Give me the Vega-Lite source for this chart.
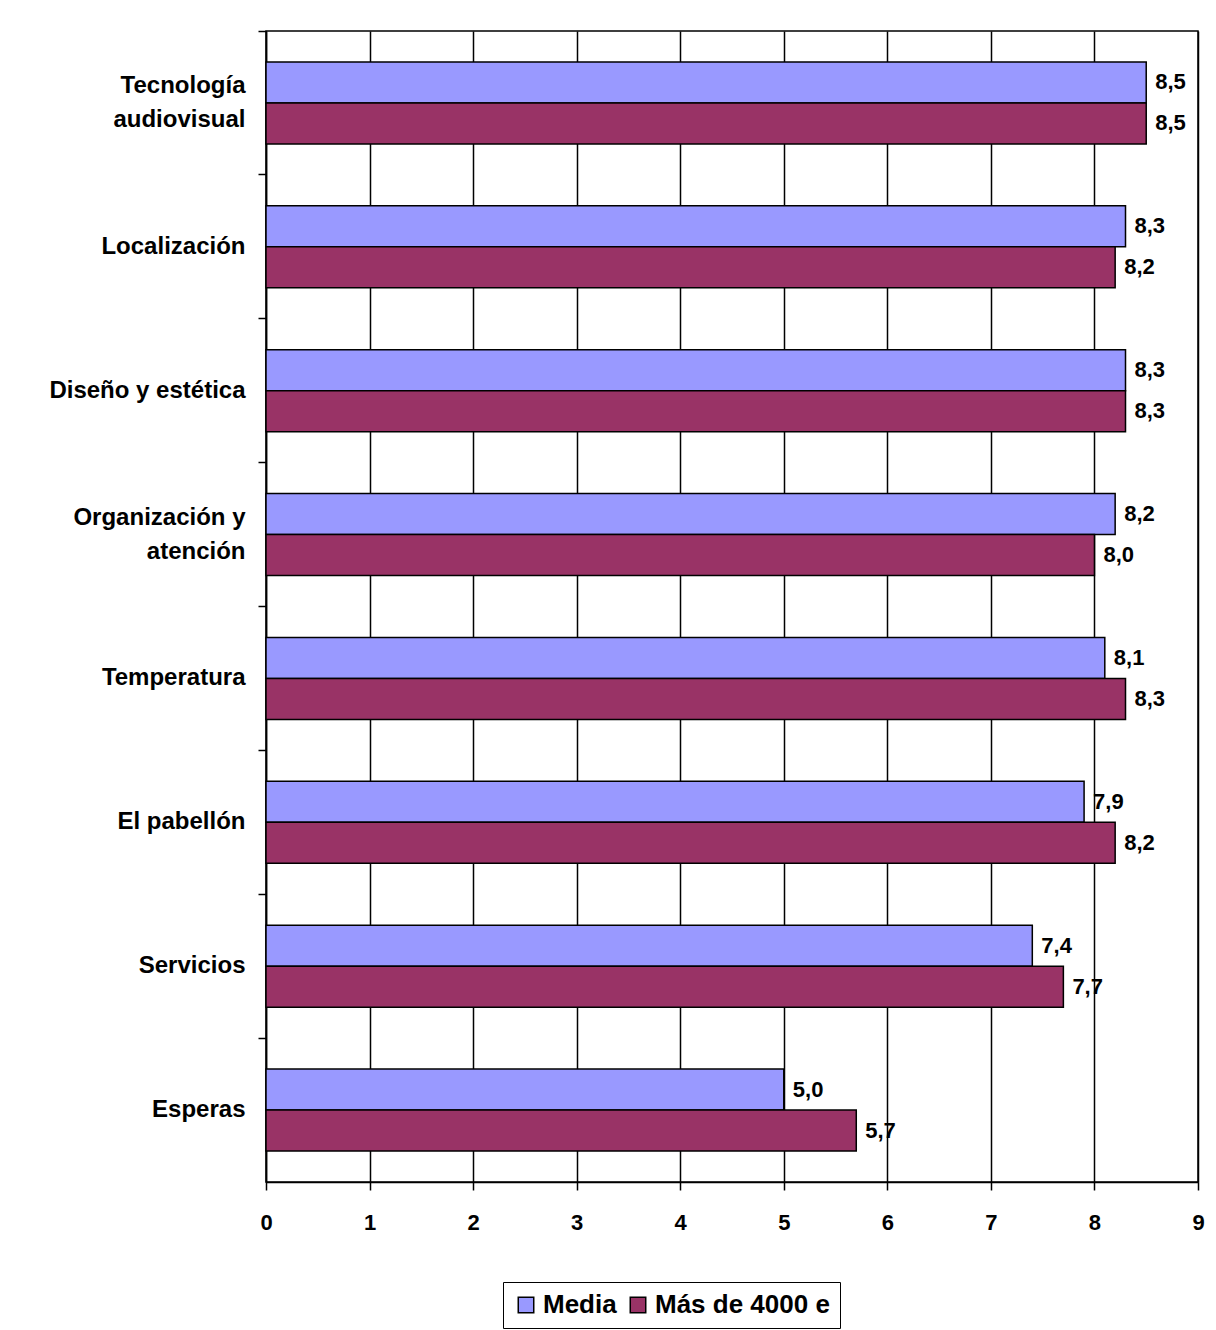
{
  "$schema": "https://vega.github.io/schema/vega-lite/v6.json",
  "autosize": {"type": "none"},
  "padding": {"left": 266, "top": 31, "right": 18, "bottom": 148},
  "width": 932,
  "height": 1151,
  "background": "white",
  "config": {
    "locale": {"number": {"decimal": ",", "thousands": ".", "grouping": [3], "currency": ["", " €"]}},
    "view": {"stroke": "black", "strokeWidth": 1.5},
    "font": "Liberation Sans",
    "axis": {"domainColor": "black", "domainWidth": 1.5, "tickColor": "black", "tickWidth": 1.5, "labelColor": "black", "labelFontWeight": "bold", "title": null}
  },
  "data": {
    "values": [
      {"categoria": "Tecnología|audiovisual", "serie": "Media", "valor": 8.5},
      {"categoria": "Tecnología|audiovisual", "serie": "Más de 4000 e", "valor": 8.5},
      {"categoria": "Localización", "serie": "Media", "valor": 8.3},
      {"categoria": "Localización", "serie": "Más de 4000 e", "valor": 8.2},
      {"categoria": "Diseño y estética", "serie": "Media", "valor": 8.3},
      {"categoria": "Diseño y estética", "serie": "Más de 4000 e", "valor": 8.3},
      {"categoria": "Organización y|atención", "serie": "Media", "valor": 8.2},
      {"categoria": "Organización y|atención", "serie": "Más de 4000 e", "valor": 8.0},
      {"categoria": "Temperatura", "serie": "Media", "valor": 8.1},
      {"categoria": "Temperatura", "serie": "Más de 4000 e", "valor": 8.3},
      {"categoria": "El pabellón", "serie": "Media", "valor": 7.9},
      {"categoria": "El pabellón", "serie": "Más de 4000 e", "valor": 8.2},
      {"categoria": "Servicios", "serie": "Media", "valor": 7.4},
      {"categoria": "Servicios", "serie": "Más de 4000 e", "valor": 7.7},
      {"categoria": "Esperas", "serie": "Media", "valor": 5.0},
      {"categoria": "Esperas", "serie": "Más de 4000 e", "valor": 5.7}
    ]
  },
  "encoding": {
    "y": {
      "field": "categoria", "type": "nominal", "sort": null,
      "scale": {"paddingInner": 0.43, "paddingOuter": 0.215},
      "axis": {
        "bandPosition": -0.377,
        "labelOffset": {"condition": {"test": "indexof(datum.value, '|') >= 0", "value": -17}, "value": 0},
        "labelExpr": "split(datum.label, '|')",
        "labelFontSize": 24, "labelLineHeight": 34, "labelPadding": 13, "tickSize": 8,
        "labelOverlap": false, "labelBound": false, "labelLimit": 400, "grid": false
      }
    },
    "yOffset": {"field": "serie", "sort": ["Media", "Más de 4000 e"]},
    "x": {
      "field": "valor", "type": "quantitative",
      "scale": {"domain": [0, 9], "nice": false, "zero": true},
      "axis": {"values": [0,1,2,3,4,5,6,7,8,9], "grid": true, "gridColor": "black", "gridWidth": 1.5, "gridOpacity": 1, "tickSize": 8, "labelFontSize": 22, "labelPadding": 22, "labelFlush": false, "format": "d"}
    }
  },
  "layer": [
    {
      "mark": {"type": "bar", "stroke": "black", "strokeWidth": 1.5},
      "encoding": {
        "color": {
          "field": "serie", "type": "nominal",
          "scale": {"domain": ["Media", "Más de 4000 e"], "range": ["#9999FF", "#993366"]},
          "legend": {
            "title": null, "orient": "none", "legendX": 237, "legendY": 1251, "direction": "horizontal",
            "strokeColor": "black", "padding": 10, "symbolType": "square", "symbolSize": 240,
            "symbolStrokeColor": "black", "symbolStrokeWidth": 1.5, "symbolOpacity": 1,
            "labelFontSize": 26, "labelFontWeight": "bold", "labelColor": "black", "labelLimit": 400,
            "columnPadding": 8, "labelOffset": 4
          }
        }
      }
    },
    {
      "mark": {"type": "text", "align": "left", "baseline": "middle", "dx": 9, "fontSize": 22, "fontWeight": "bold", "color": "black"},
      "encoding": {"text": {"field": "valor", "type": "quantitative", "format": ".1f"}}
    }
  ]
}
